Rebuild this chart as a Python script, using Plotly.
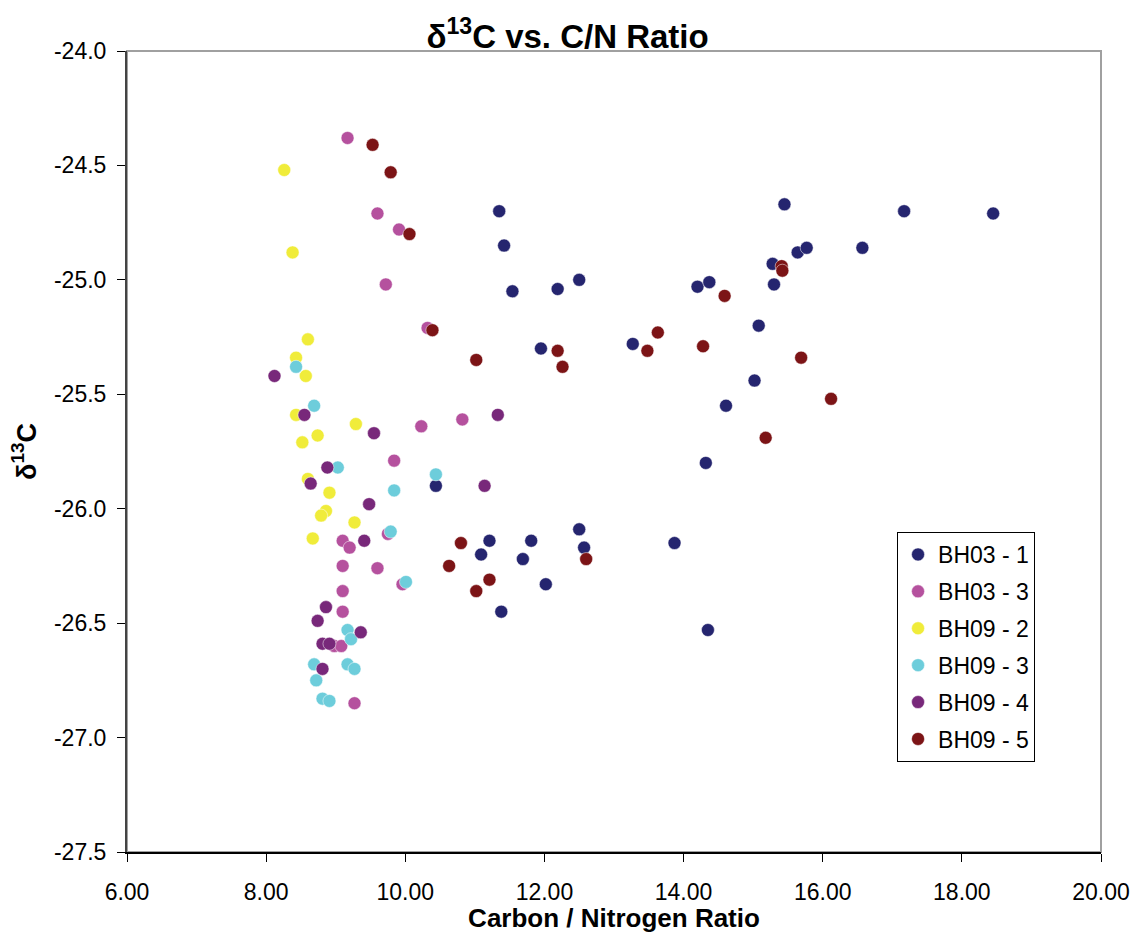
import plotly.graph_objects as go

# ---- data (C/N ratio, delta13C) ----
bh03_1_x = [11.35, 11.42, 11.54, 12.19, 12.50, 14.20, 14.37, 15.08, 11.95, 13.27, 15.02, 14.61, 14.32,
            10.44, 12.50, 11.21, 11.81, 11.09, 12.57, 11.69, 13.87, 12.02, 11.38, 14.35, 15.45, 17.17,
            18.45, 16.57, 15.64, 15.77, 15.28, 15.30]
bh03_1_y = [-24.70, -24.85, -25.05, -25.04, -25.00, -25.03, -25.01, -25.20, -25.30, -25.28, -25.44, -25.55, -25.80,
            -25.90, -26.09, -26.14, -26.14, -26.20, -26.17, -26.22, -26.15, -26.33, -26.45, -26.53, -24.67, -24.70,
            -24.71, -24.86, -24.88, -24.86, -24.93, -25.02]

bh03_3_x = [9.17, 9.60, 9.91, 9.72, 10.32, 10.82, 10.23, 9.84, 9.75, 9.10, 9.20, 9.10, 9.60, 9.96, 9.10,
            9.10, 8.98, 9.08, 9.27]
bh03_3_y = [-24.38, -24.71, -24.78, -25.02, -25.21, -25.61, -25.64, -25.79, -26.11, -26.14, -26.17, -26.25,
            -26.26, -26.33, -26.36, -26.45, -26.60, -26.60, -26.85]

bh09_2_x = [8.26, 8.38, 8.60, 8.43, 8.57, 8.43, 9.29, 8.74, 8.52, 8.60, 8.91, 8.86, 8.79, 9.27, 8.67]
bh09_2_y = [-24.52, -24.88, -25.26, -25.34, -25.42, -25.59, -25.63, -25.68, -25.71, -25.87, -25.93, -26.01,
            -26.03, -26.06, -26.13]

bh09_3_x = [8.43, 8.69, 9.03, 10.44, 9.84, 9.79, 10.01, 9.17, 9.22, 8.69, 9.17, 9.27, 8.72, 8.81, 8.91]
bh09_3_y = [-25.38, -25.55, -25.82, -25.85, -25.92, -26.10, -26.32, -26.53, -26.57, -26.68, -26.68, -26.70,
            -26.75, -26.83, -26.84]

bh09_4_x = [8.12, 8.55, 9.55, 8.88, 11.14, 8.64, 9.48, 9.41, 11.33, 8.86, 8.74, 9.36, 8.81, 8.91, 8.81]
bh09_4_y = [-25.42, -25.59, -25.67, -25.82, -25.90, -25.89, -25.98, -26.14, -25.59, -26.43, -26.49, -26.54,
            -26.59, -26.59, -26.70]

bh09_5_x = [9.53, 9.79, 10.06, 10.39, 11.02, 14.59, 13.63, 12.19, 12.26, 13.48, 14.28, 15.41, 15.42, 15.69,
            16.12, 15.18, 10.80, 10.63, 11.02, 11.21, 12.60]
bh09_5_y = [-24.41, -24.53, -24.80, -25.22, -25.35, -25.07, -25.23, -25.31, -25.38, -25.31, -25.29, -24.94,
            -24.96, -25.34, -25.52, -25.69, -26.15, -26.25, -26.36, -26.31, -26.22]

series_names = ["BH03 - 1", "BH03 - 3", "BH09 - 2", "BH09 - 3", "BH09 - 4", "BH09 - 5"]
series_colors = ["#25256F", "#B5519E", "#F0EC3A", "#6DCDDB", "#78287A", "#7C1416"]

x_tickvals = [6, 8, 10, 12, 14, 16, 18, 20]
x_ticktext = ["6.00", "8.00", "10.00", "12.00", "14.00", "16.00", "18.00", "20.00"]
y_tickvals = [-24.0, -24.5, -25.0, -25.5, -26.0, -26.5, -27.0, -27.5]
y_ticktext = ["-24.0", "-24.5", "-25.0", "-25.5", "-26.0", "-26.5", "-27.0", "-27.5"]

xs = [bh03_1_x, bh03_3_x, bh09_2_x, bh09_3_x, bh09_4_x, bh09_5_x]
ys = [bh03_1_y, bh03_3_y, bh09_2_y, bh09_3_y, bh09_4_y, bh09_5_y]

FONT = "Liberation Sans, Arial, sans-serif"

fig = go.Figure()
for i, (name, col, x, y) in enumerate(zip(series_names, series_colors, xs, ys)):
    fig.add_trace(go.Scatter(
        x=x, y=y, mode="markers", name=name, legendgroup=name,
        marker=dict(color=col, size=13, line=dict(width=0.5, color="white")),
    ))

# gray frame (top/right)
fig.add_shape(type="rect", xref="paper", yref="paper", x0=0, y0=0, x1=1, y1=1,
              line=dict(color="#A0A0A0", width=2), layer="below")

fig.update_layout(
    width=1142, height=933,
    margin=dict(l=127, r=41, t=51, b=81),
    paper_bgcolor="white", plot_bgcolor="white",
    font=dict(family=FONT, color="black", size=23),
    title=dict(text="δ<sup>13</sup>C vs. C/N Ratio", x=0.497, xanchor="center", y=0.961, yanchor="middle",
               font=dict(size=33, weight="bold", family=FONT)),
    showlegend=True,
    legend=dict(x=0.7906, y=0.3995, xanchor="left", yanchor="top",
                bordercolor="black", borderwidth=1, bgcolor="white",
                font=dict(size=23, family=FONT), tracegroupgap=4,
                itemwidth=30),
)
fig.update_xaxes(range=[6, 20], tickvals=x_tickvals, ticktext=x_ticktext, automargin=False,
                 showgrid=False, zeroline=False, showline=True, linecolor="black", linewidth=2,
                 ticks="outside", ticklen=8, tickcolor="black", tickwidth=1,
                 tickfont=dict(size=23), ticklabelstandoff=10,
                 title=dict(text="Carbon / Nitrogen Ratio", font=dict(size=26, weight="bold"), standoff=5))
fig.update_yaxes(range=[-27.5, -24.0], tickvals=y_tickvals, ticktext=y_ticktext, automargin=False,
                 showgrid=False, zeroline=False, showline=True, linecolor="#444444", linewidth=2,
                 ticks="outside", ticklen=8, tickcolor="black", tickwidth=1,
                 tickfont=dict(size=23), ticklabelstandoff=6,
                 title=dict(text="δ<sup>13</sup>C", font=dict(size=27, weight="bold"), standoff=10))

fig.write_html("out.html", post_script="document.body.style.margin='0';",
               config={"displayModeBar": False})
